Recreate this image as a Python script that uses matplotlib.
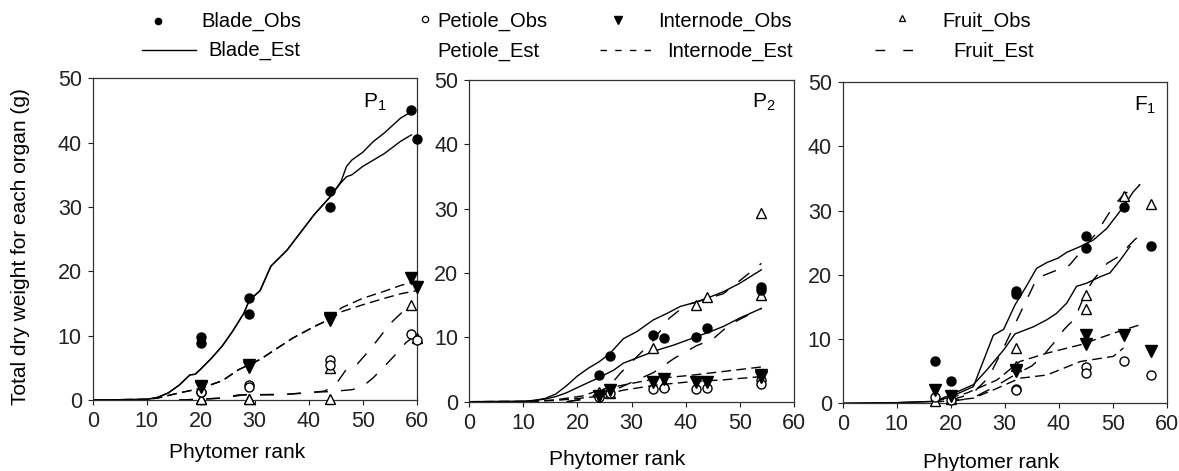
import matplotlib
matplotlib.use("Agg")
import matplotlib.pyplot as plt
from matplotlib.lines import Line2D

plt.rcParams['font.family'] = ['Liberation Sans', 'DejaVu Sans']
plt.rcParams['mathtext.default'] = 'regular'

p1_rank = [20, 20, 29, 29, 44, 44, 59, 60]
p1_blade = [9.8, 8.8, 15.8, 13.3, 32.5, 30.0, 45.0, 40.6]
p1_petiole = [1.3, 1.2, 2.3, 2.0, 6.2, 5.4, 10.3, 9.3]
p1_internode = [2.2, 2.0, 5.4, 5.2, 12.7, 12.5, 19.0, 17.6]
p1_fruit = [0.2, 0.2, 0.2, 0.2, 5.0, 0.2, 14.8, 9.7]

p2_rank = [24, 26, 34, 36, 42, 44, 54, 54]
p2_blade = [4.1, 7.15, 10.4, 9.9, 10.0, 11.4, 17.9, 17.4]
p2_petiole = [0.7, 1.3, 1.9, 2.1, 2.0, 2.2, 3.4, 2.8]
p2_internode = [0.9, 1.8, 3.1, 3.5, 3.1, 3.0, 4.2, 3.8]
p2_fruit = [1.5, 1.3, 8.4, 2.8, 15.1, 16.2, 29.4, 16.6]

f1_rank = [17, 20, 32, 32, 45, 45, 52, 57]
f1_blade = [6.6, 3.5, 17.4, 17.0, 26.1, 24.2, 30.6, 24.5]
f1_petiole = [1.0, 0.5, 2.3, 2.1, 5.6, 4.7, 6.6, 4.4]
f1_internode = [2.1, 1.2, 5.2, 5.0, 10.6, 9.3, 10.6, 8.1]
f1_fruit = [0.3, 0.6, 8.6, 5.8, 16.9, 14.6, 32.3, 31.0]

# ---- estimated curves (rank, weight) ----
p1_blade_est_a = ([0, 10, 12, 14, 16, 18, 19, 20, 22, 24, 26, 28, 29, 31, 33, 36, 38, 41, 44, 46, 47, 48, 50, 52, 54, 57, 59],
                  [0, 0.1, 0.4, 1.1, 2.3, 3.9, 4.0, 4.8, 6.5, 8.4, 10.8, 13.5, 15.5, 17.0, 20.8, 23.3, 25.5, 28.8, 31.6, 34.0, 36.3, 37.3, 38.5, 40.2, 41.5, 43.8, 44.8])
p1_blade_est_b = ([0, 10, 12, 14, 16, 18, 19, 20, 22, 24, 26, 28, 29, 31, 33, 36, 38, 41, 44, 46, 47, 48, 50, 52, 54, 57, 59],
                  [0, 0.1, 0.4, 1.1, 2.3, 3.9, 4.0, 4.8, 6.5, 8.4, 10.8, 13.5, 15.5, 17.0, 20.8, 23.3, 25.5, 28.8, 31.6, 33.8, 34.7, 35.0, 36.3, 37.3, 38.3, 40.2, 41.2])
p1_internode_est_a = ([0, 10, 12, 14, 16, 20, 24, 27, 31, 37, 41, 44, 46, 50, 54, 57, 60],
                      [0, 0.1, 0.3, 0.7, 1.1, 1.8, 3.0, 4.7, 6.3, 9.6, 11.4, 12.6, 14.3, 15.8, 16.9, 17.8, 18.5])
p1_internode_est_b = ([0, 10, 12, 14, 16, 20, 24, 27, 31, 37, 41, 44, 46, 50, 54, 57, 60],
                      [0, 0.1, 0.3, 0.7, 1.1, 1.8, 3.0, 4.7, 6.3, 9.6, 11.4, 12.6, 13.7, 14.8, 15.8, 16.5, 17.0])
p1_fruit_est_a = ([16, 24, 28, 36, 40, 43, 45, 47, 49, 51, 53, 55, 57, 59],
                  [0, 0.3, 0.8, 0.9, 1.1, 1.4, 2.4, 4.8, 5.6, 7.5, 9.6, 11.8, 13.4, 15.0])
p1_fruit_est_b = ([16, 20, 24, 27, 35, 40, 44, 48, 50, 52, 54, 56, 58, 60],
                  [0, 0.1, 0.3, 0.8, 0.8, 1.2, 1.3, 1.6, 2.1, 3.5, 5.2, 7.0, 8.9, 10.2])

p2_blade_est_a = ([0, 10, 12, 14, 16, 18, 20, 22, 24, 26, 28.5, 31, 34, 36.5, 39, 42, 44, 47, 50, 54],
                  [0, 0.05, 0.2, 0.5, 1.2, 2.5, 4.0, 5.2, 6.2, 7.5, 9.8, 10.9, 12.7, 13.7, 14.8, 15.5, 16.1, 17.1, 18.4, 20.5])
p2_blade_est_b = ([0, 10, 12, 14, 16, 18, 20, 23.6, 26.7, 28.5, 31.6, 34.7, 37.8, 42, 44.6, 47, 50, 54],
                  [0, 0.05, 0.2, 0.4, 0.8, 1.4, 2.2, 3.6, 4.9, 6.0, 7.0, 8.0, 8.8, 10.1, 10.9, 11.7, 13.0, 14.5])
p2_internode_est_a = ([0, 12, 16, 21, 24, 28.5, 34.7, 40.9, 47, 54],
                      [0, 0.05, 0.3, 0.9, 1.8, 2.6, 3.6, 4.1, 4.7, 5.4])
p2_internode_est_b = ([0, 12, 16, 20, 23.6, 28.5, 34.7, 40.9, 47, 54],
                      [0, 0.05, 0.2, 0.5, 0.8, 1.8, 2.6, 3.1, 3.4, 3.9])
p2_fruit_est_a = ([18, 22, 26, 28, 31, 34, 37, 40, 44, 47, 50, 54],
                  [0, 0.5, 2.5, 4.5, 7.0, 9.5, 13.0, 15.0, 16.0, 16.8, 18.8, 21.5])
p2_fruit_est_b = ([18, 22, 26, 30, 34, 38, 42, 45, 48, 50, 54],
                  [0, 0.5, 1.5, 3.0, 4.5, 6.8, 8.7, 9.7, 11.9, 12.8, 14.5])

f1_blade_est_a = ([0, 10, 17, 20, 24.2, 25.4, 27.9, 29.8, 31.9, 34, 35.9, 37.8, 39.9, 41.5, 44, 46.4, 48.9, 52, 53.8, 55],
                  [0, 0.1, 0.3, 1.0, 2.6, 5.2, 10.6, 11.5, 15.3, 18.2, 21.0, 21.9, 22.6, 23.5, 24.4, 25.4, 27.2, 30.6, 32.9, 34.0])
f1_blade_est_b = ([0, 10, 17, 19.9, 24.2, 26.7, 29.8, 31.9, 35.3, 37.8, 39.6, 41.5, 43.3, 45.2, 47.7, 49.5, 51.4, 53.2],
                  [0, 0.1, 0.3, 1.3, 2.9, 5.2, 8.3, 10.8, 11.9, 13.0, 14.0, 15.6, 18.2, 18.7, 19.7, 20.3, 22.3, 24.4])
f1_internode_est_a = ([17, 20, 23, 28.5, 32.8, 37.8, 44, 50.1, 55],
                      [0.3, 0.9, 1.6, 3.6, 6.5, 7.8, 9.1, 10.9, 12.2])
f1_internode_est_b = ([17, 20, 24.2, 28.5, 32.8, 37.8, 44, 50.1, 52],
                      [0.2, 0.4, 0.8, 2.3, 3.9, 4.4, 6.5, 7.3, 8.6])
f1_fruit_est_a = ([20, 24, 27, 30, 34, 36, 39, 42, 45, 47, 50, 52, 55],
                  [0.5, 1.5, 4.0, 9.0, 16.0, 19.5, 20.5, 21.5, 24.5, 26.5, 30.5, 32.5, 34.0])
f1_fruit_est_b = ([20, 24, 28, 32, 35, 37, 39, 41, 43, 45, 46.5, 49, 51, 54, 55.5],
                  [0.3, 0.8, 2.5, 4.5, 5.8, 7.3, 9.3, 11.5, 13.2, 17.3, 19.3, 21.8, 22.8, 25.4, 26.5])

panels = [
    dict(name='P', sub='1', rank=p1_rank, blade=p1_blade, petiole=p1_petiole,
         internode=p1_internode, fruit=p1_fruit,
         blade_est=[p1_blade_est_a, p1_blade_est_b],
         internode_est=[p1_internode_est_a, p1_internode_est_b],
         fruit_est=[p1_fruit_est_a, p1_fruit_est_b]),
    dict(name='P', sub='2', rank=p2_rank, blade=p2_blade, petiole=p2_petiole,
         internode=p2_internode, fruit=p2_fruit,
         blade_est=[p2_blade_est_a, p2_blade_est_b],
         internode_est=[p2_internode_est_a, p2_internode_est_b],
         fruit_est=[p2_fruit_est_a, p2_fruit_est_b]),
    dict(name='F', sub='1', rank=f1_rank, blade=f1_blade, petiole=f1_petiole,
         internode=f1_internode, fruit=f1_fruit,
         blade_est=[f1_blade_est_a, f1_blade_est_b],
         internode_est=[f1_internode_est_a, f1_internode_est_b],
         fruit_est=[f1_fruit_est_a, f1_fruit_est_b]),
]

W, H = 1179, 471
fig = plt.figure(figsize=(W / 100, H / 100), dpi=100)

# axes boxes in pixels: left, top, width, height
boxes = [(92.7, 78.3, 324, 321.7), (469.3, 80, 324.5, 321.7), (842.7, 82, 324, 321.3)]
label_pos = [(0.835, 0.91), (0.87, 0.915), (0.90, 0.91)]
xlabel_pos = [(0.445, -0.135), (0.455, -0.15), (0.458, -0.155)]

INT_DASH = (7, 3.8)
FRU_DASH = (10, 9.5)

for i, (pan, box) in enumerate(zip(panels, boxes)):
    l, t, w, h = box
    ax = fig.add_axes([l / W, 1 - (t + h) / H, w / W, h / H])
    for xs, ys in pan['blade_est']:
        ax.plot(xs, ys, color='black', lw=1.0)
    for xs, ys in pan['internode_est']:
        ax.plot(xs, ys, color='black', lw=1.0, dashes=INT_DASH)
    for xs, ys in pan['fruit_est']:
        ax.plot(xs, ys, color='black', lw=1.0, dashes=FRU_DASH)

    ax.plot(pan['rank'], pan['fruit'], ls='none', marker='^', ms=7.5,
            mfc='white', mec='black', mew=1.0, clip_on=False, zorder=3)
    ax.plot(pan['rank'], pan['petiole'], ls='none', marker='o', ms=6.5,
            mfc='white', mec='black', mew=1.0, clip_on=False, zorder=3)
    ax.plot(pan['rank'], pan['internode'], ls='none', marker='v', ms=8,
            mfc='black', mec='black', clip_on=False, zorder=4)
    ax.plot(pan['rank'], pan['blade'], ls='none', marker='o', ms=6.5,
            mfc='black', mec='black', clip_on=False, zorder=4)

    ax.set_xlim(0, 60)
    ax.set_ylim(0, 50)
    ax.set_xticks(range(0, 61, 10))
    ax.set_yticks(range(0, 51, 10))
    ax.tick_params(direction='out', length=3.8, width=0.8, labelsize=15.5,
                   pad=4, colors='#222222')
    for sp in ax.spines.values():
        sp.set_linewidth(0.9)
        sp.set_color('#333333')
    ax.set_xlabel('Phytomer rank', fontsize=15)
    ax.xaxis.set_label_coords(*xlabel_pos[i])
    lx, ly = label_pos[i]
    ax.text(lx, ly, pan['name'] + '$_{' + pan['sub'] + '}$', transform=ax.transAxes,
            fontsize=15, ha='left', va='baseline')

fig.text(21 / W, 1 - 247 / H, 'Total dry weight for each organ (g)', rotation=90,
         ha='center', va='center', fontsize=15)

# ---- legend drawn on an overlay in pixel units ----
lax = fig.add_axes([0, 0, 1, 1])
lax.set_xlim(0, W)
lax.set_ylim(H, 0)
lax.axis('off')
row1, row2 = 21, 50
LFS = 14.5
lax.plot([158], [row1], marker='o', ms=4.5, color='black', ls='none')
lax.text(201, row1, 'Blade_Obs', fontsize=LFS, va='center')
lax.plot([425], [row1 - 2], marker='o', ms=4.5, mfc='white', mec='black', mew=0.9, ls='none')
lax.text(437, row1, 'Petiole_Obs', fontsize=LFS, va='center')
lax.plot([618], [row1 - 1], marker='v', ms=6, color='black', ls='none')
lax.text(658, row1, 'Internode_Obs', fontsize=LFS, va='center')
lax.plot([902], [row1 - 3], marker='^', ms=5, mfc='white', mec='black', mew=0.9, ls='none')
lax.text(942, row1, 'Fruit_Obs', fontsize=LFS, va='center')

lax.plot([142, 196], [row2, row2], color='black', lw=1.0)
lax.text(208, row2, 'Blade_Est', fontsize=LFS, va='center')
lax.text(437, row2 + 1, 'Petiole_Est', fontsize=LFS, va='center')
lax.plot([600, 653], [row2, row2], color='black', lw=1.0, dashes=(4.6, 6))
lax.text(667, row2 + 1, 'Internode_Est', fontsize=LFS, va='center')
lax.plot([875, 913], [row2, row2], color='black', lw=1.0, dashes=(7, 13))
lax.text(953, row2 + 1, 'Fruit_Est', fontsize=LFS, va='center')

fig.savefig('out.png', dpi=100)
